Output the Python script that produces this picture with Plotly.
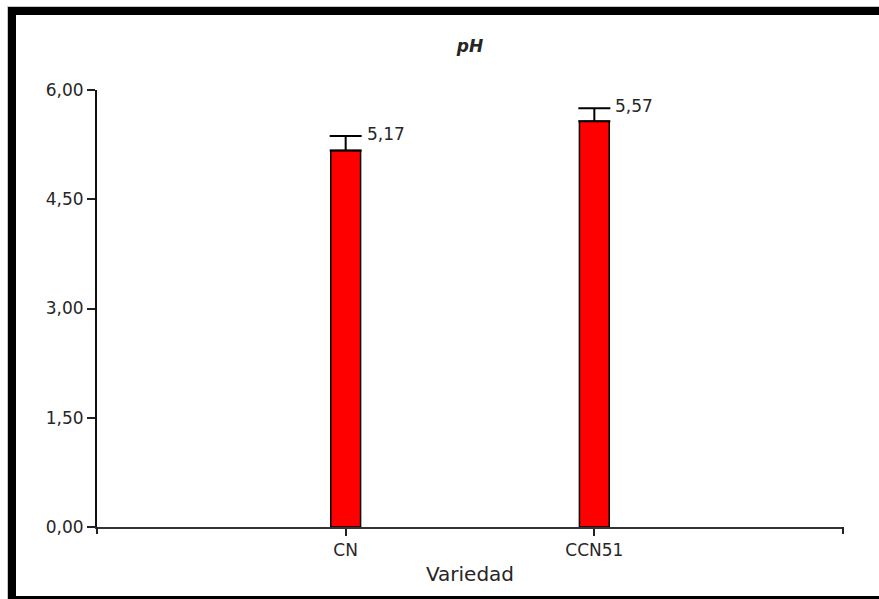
import plotly.graph_objects as go

# Mean pH per cocoa variety with its error
variedades = ["CN", "CCN51"]
ph_medio = [5.17, 5.57]
ph_error = [0.20, 0.18]
y_ticks = [0.0, 1.5, 3.0, 4.5, 6.0]

W, H = 879, 599
L, R, T, B = 97, 36, 90, 72
PW, PH = W - L - R, H - T - B

def px_x(p):
    return (p - L) / PW

def px_y(p):
    return (H - B - p) / PH

FONT = "DejaVu Sans, Arial, sans-serif"
TXT = "#262626"

fig = go.Figure()
fig.add_trace(go.Bar(
    x=variedades,
    y=ph_medio,
    width=0.12,
    marker=dict(color="#FF0000", line=dict(color="#000000", width=1.5)),
    error_y=dict(type="data", symmetric=False, array=ph_error,
                 arrayminus=[0] * len(ph_error),
                 color="#000000", thickness=2, width=16),
    showlegend=False,
    hoverinfo="skip",
))

# value labels to the right of each error cap
for v, m, e in zip(variedades, ph_medio, ph_error):
    fig.add_annotation(
        x=v, y=m + e, xref="x", yref="y",
        text=f"{m:.2f}".replace(".", ","),
        showarrow=False, xanchor="left", yanchor="middle",
        xshift=19, yshift=2,
        font=dict(family=FONT, size=17, color=TXT),
    )

shapes = []
# small end ticks below the x axis line
for xd in (0, 1):
    shapes.append(dict(type="line", xref="x domain", yref="y domain",
                       xsizemode="scaled", ysizemode="pixel",
                       x0=xd, x1=xd, yanchor=0, y0=0, y1=-7,
                       line=dict(color="#222222", width=2)))
# black frame around the figure
frame = "#000000"
shapes += [
    dict(type="rect", xref="paper", yref="paper", layer="above",
         x0=px_x(8), x1=px_x(16), y0=px_y(7), y1=px_y(H + 2),
         fillcolor=frame, line=dict(width=0)),
    dict(type="rect", xref="paper", yref="paper", layer="above",
         x0=px_x(8), x1=px_x(W + 2), y0=px_y(7), y1=px_y(15),
         fillcolor=frame, line=dict(width=0)),
    dict(type="rect", xref="paper", yref="paper", layer="above",
         x0=px_x(8), x1=px_x(W + 2), y0=px_y(596), y1=px_y(H + 2),
         fillcolor=frame, line=dict(width=0)),
    dict(type="line", xref="paper", yref="paper",
         x0=px_x(7), x1=px_x(W + 2), y0=px_y(6.5), y1=px_y(6.5),
         line=dict(color="#c8c8c8", width=1)),
    dict(type="line", xref="paper", yref="paper",
         x0=px_x(7.5), x1=px_x(7.5), y0=px_y(6.5), y1=px_y(H + 2),
         line=dict(color="#c8c8c8", width=1)),
]

fig.update_layout(
    width=W, height=H,
    margin=dict(l=L, r=R, t=T, b=B, pad=0),
    paper_bgcolor="#FFFFFF", plot_bgcolor="#FFFFFF",
    separators=",.",
    title=dict(text="pH", x=(L + PW / 2) / W, xanchor="center",
               y=1 - 46 / H, yanchor="middle",
               font=dict(family=FONT, size=17, color=TXT,
                         weight="bold", style="italic")),
    xaxis=dict(
        range=[-1, 2], showgrid=False, zeroline=False,
        showline=True, linecolor="#333333", linewidth=2,
        ticks="outside", ticklen=7, tickwidth=2, tickcolor="#222222",
        tickfont=dict(family=FONT, size=17, color=TXT),
        title=dict(text="Variedad", standoff=8,
                   font=dict(family=FONT, size=20, color=TXT)),
    ),
    yaxis=dict(
        range=[0, 6], tickvals=y_ticks, tickformat=".2f",
        showgrid=False, zeroline=False,
        showline=True, linecolor="#111111", linewidth=2,
        ticks="outside", ticklen=8, tickwidth=2, tickcolor="#222222",
        tickfont=dict(family=FONT, size=17, color=TXT),
    ),
    shapes=shapes,
)

fig.write_html("out.html")
